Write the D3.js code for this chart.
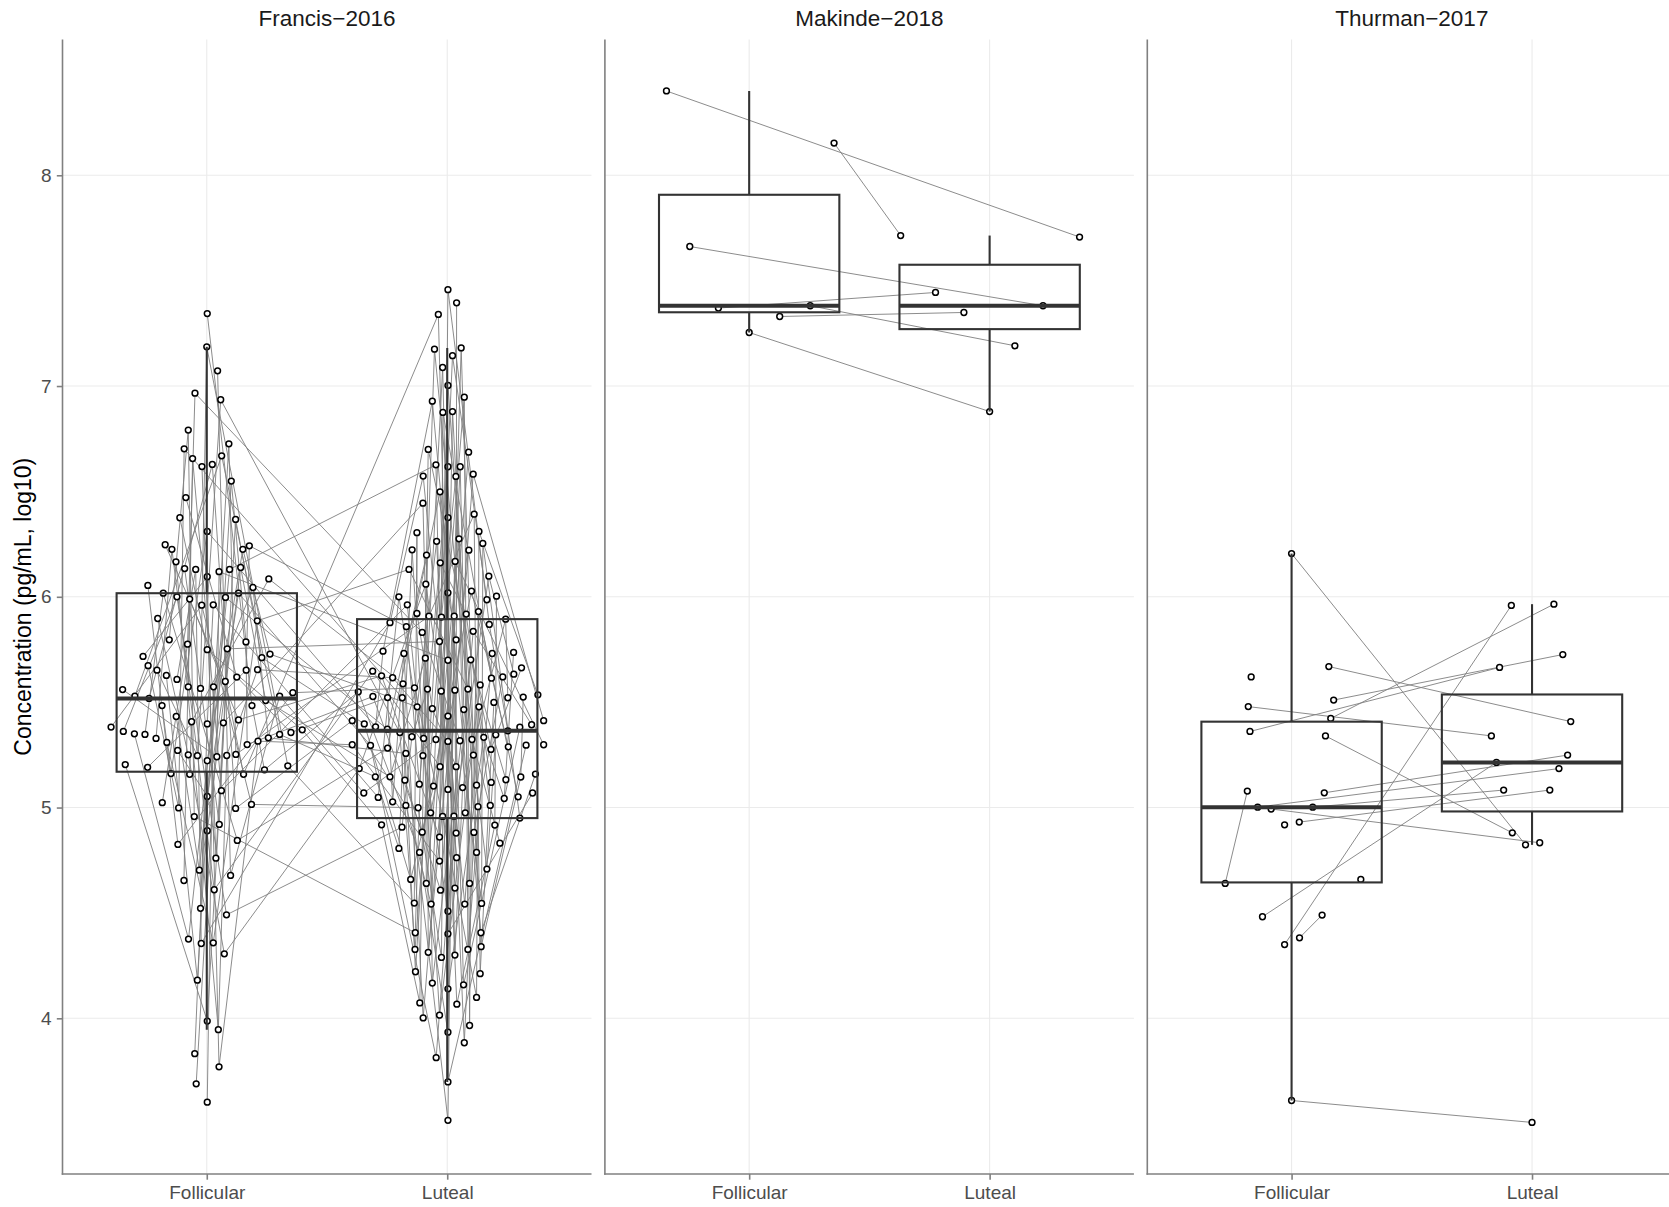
<!DOCTYPE html>
<html>
<head>
<meta charset="utf-8">
<script src="https://cdn.jsdelivr.net/npm/d3@7"></script>
<style>
  body { margin: 0; background: #ffffff; }
  svg { display: block; font-family: "Liberation Sans", Arial, Helvetica, sans-serif; }
</style>
</head>
<body>
<svg id="chart" width="1669" height="1207"></svg>
<script>
// ---- categories and labels ----
const phases = ["Follicular", "Luteal"];
const studies = ["Francis\u22122016", "Makinde\u22122018", "Thurman\u22122017"];
const yTicks = [4, 5, 6, 7, 8];
const yTitle = "Concentration (pg/mL, log10)";

// ---- Francis-2016: follicular samples (log10 pg/mL), horizontal spread, subject id ----
const francisFolValue = [
  7.344, 7.186, 7.072, 6.966, 6.935, 6.791, 6.702, 6.726, 6.656, 6.669,
  6.618, 6.628, 6.549, 6.471, 6.375, 6.367, 6.310, 6.247, 6.225, 6.225,
  6.242, 6.166, 6.134, 6.130, 6.095, 6.119, 6.130, 6.139, 6.085, 6.054,
  6.044, 6.017, 6.000, 5.989, 5.960, 5.962, 5.997, 6.017, 5.897, 5.886,
  5.796, 5.775, 5.749, 5.753, 5.786, 5.717, 5.711, 5.728, 5.673, 5.652,
  5.627, 5.608, 5.573, 5.565, 5.573, 5.598, 5.619, 5.652, 5.654, 5.560,
  5.529, 5.518, 5.484, 5.484, 5.508, 5.529, 5.545, 5.432, 5.407, 5.397,
  5.402, 5.416, 5.382, 5.361, 5.350, 5.347, 5.328, 5.309, 5.271, 5.250,
  5.246, 5.222, 5.241, 5.247, 5.252, 5.299, 5.315, 5.331, 5.347, 5.356,
  5.369, 5.204, 5.191, 5.161, 5.158, 5.158, 5.179, 5.198, 5.080, 5.053,
  5.023, 4.998, 4.957, 4.996, 5.015, 4.920, 4.890, 4.844, 4.825, 4.760,
  4.703, 4.678, 4.654, 4.610, 4.522, 4.491, 4.376, 4.355, 4.358, 4.306,
  4.181, 3.987, 3.946, 3.832, 3.770, 3.689, 3.602
];
const francisFolOffset = [
  0.002, 0.000, 0.045, -0.049, 0.058, -0.077, -0.094, 0.092, -0.059, 0.062,
  -0.020, 0.023, 0.102, -0.087, -0.112, 0.120, 0.002, -0.173, -0.145, 0.150,
  0.177, -0.128, -0.092, -0.046, 0.002, 0.051, 0.095, 0.141, 0.258, -0.245,
  0.192, -0.181, -0.124, -0.071, -0.021, 0.027, 0.078, 0.132, -0.204, 0.210,
  -0.156, -0.080, 0.002, 0.085, 0.163, -0.265, 0.229, 0.263, -0.244, -0.207,
  -0.168, -0.124, -0.077, -0.026, 0.028, 0.077, 0.125, 0.164, 0.211, -0.350,
  -0.299, -0.240, -0.186, 0.188, 0.245, 0.303, 0.358, -0.127, -0.063, 0.002,
  0.069, 0.132, -0.398, -0.347, -0.301, -0.257, -0.211, -0.166, -0.121, -0.077,
  -0.039, 0.002, 0.042, 0.083, 0.121, 0.168, 0.213, 0.256, 0.303, 0.350,
  0.397, -0.339, -0.246, -0.149, -0.071, 0.153, 0.240, 0.337, 0.061, 0.002,
  -0.185, -0.117, -0.052, 0.120, 0.186, 0.052, 0.002, 0.127, -0.120, 0.038,
  -0.031, 0.099, -0.095, 0.031, -0.026, 0.082, -0.076, -0.023, 0.027, 0.073,
  -0.039, 0.002, 0.048, -0.050, 0.051, -0.044, 0.002
];
const francisFolSubject = [
  7, 22, 15, 3, 31, 12, 26, 9, 38, 18,
  4, 35, 20, 11, 29, 1, 24, 33, 6, 14,
  40, 27, 8, 17, 36, 2, 21, 30, 13, 39,
  5, 25, 10, 34, 19, 28, 37, 16, 23, 32,
  12, 3, 29, 8, 20, 36, 1, 14, 26, 31,
  9, 17, 38, 22, 5, 33, 11, 40, 27, 2,
  18, 35, 24, 7, 30, 15, 39, 21, 13, 28,
  4, 34, 19, 10, 37, 25, 6, 32, 16, 23,
  31, 14, 2, 27, 9, 20, 36, 5, 18, 11,
  29, 1, 40, 24, 13, 33, 7, 22, 38, 16,
  3, 26, 12, 35, 19, 8, 30, 25, 39, 4,
  21, 15, 34, 6, 28, 10, 37, 17, 32, 23,
  9, 1, 27, 14, 36, 20, 5
];

// ---- Francis-2016: luteal samples ----
const francisLutValue = [
  7.457, 7.395, 7.340, 7.175, 7.181, 7.144, 7.088, 7.003, 6.928, 6.947,
  6.875, 6.879, 6.699, 6.686, 6.626, 6.617, 6.617, 6.573, 6.571, 6.582,
  6.498, 6.444, 6.376, 6.392, 6.304, 6.310, 6.263, 6.275, 6.253, 6.223,
  6.198, 6.221, 6.161, 6.168, 6.130, 6.098, 6.060, 6.019, 6.027, 6.000,
  5.986, 6.003, 5.962, 5.921, 5.908, 5.904, 5.908, 5.918, 5.930, 5.894,
  5.877, 5.858, 5.831, 5.836, 5.869, 5.788, 5.796, 5.742, 5.731, 5.709,
  5.699, 5.701, 5.731, 5.736, 5.647, 5.625, 5.616, 5.587, 5.568, 5.562,
  5.552, 5.557, 5.562, 5.582, 5.614, 5.620, 5.633, 5.663, 5.549,
  5.527, 5.522, 5.521, 5.521, 5.524, 5.535, 5.478, 5.469, 5.434, 5.465,
  5.478, 5.499, 5.412, 5.397, 5.383, 5.372, 5.412, 5.393, 5.381, 5.364,
  5.356, 5.336, 5.328, 5.323, 5.314, 5.317, 5.323, 5.333, 5.345, 5.298,
  5.295, 5.282, 5.257, 5.246, 5.249, 5.276, 5.288, 5.296, 5.298, 5.185,
  5.146, 5.146, 5.130, 5.194, 5.194, 5.111, 5.102, 5.086, 5.095, 5.106,
  5.119, 5.132, 5.145, 5.159, 5.069, 5.048, 5.027, 5.010, 4.999, 4.975,
  4.958, 4.959, 4.975, 5.004, 5.010, 5.043, 5.051, 5.069, 4.950, 4.918,
  4.907, 4.883, 4.860, 4.879, 4.882, 4.917, 4.831, 4.806, 4.787, 4.746,
  4.762, 4.787, 4.708, 4.659, 4.640, 4.608, 4.618, 4.640, 4.547, 4.542,
  4.542, 4.545, 4.508, 4.406, 4.401, 4.406, 4.327, 4.313, 4.289, 4.300,
  4.327, 4.340, 4.221, 4.212, 4.167, 4.140, 4.159, 4.073, 4.067, 4.099,
  4.002, 4.015, 3.966, 3.934, 3.884, 3.813, 3.698, 3.516
];
const francisLutOffset = [
  0.003, 0.039, -0.037, -0.053, 0.058, 0.022, -0.019, 0.003, -0.062, 0.071,
  -0.018, 0.022, -0.079, 0.089, -0.047, 0.003, 0.054, -0.100, 0.036, 0.108,
  -0.030, -0.101, 0.003, 0.112, -0.126, 0.132, -0.044, 0.049, 0.148, -0.146,
  -0.086, 0.090, -0.029, 0.033, -0.159, 0.173, -0.089, 0.003, 0.101, -0.201,
  0.165, 0.205, -0.166, -0.126, -0.076, -0.024, 0.029, 0.079, 0.130, 0.243,
  -0.238, -0.170, -0.104, 0.108, 0.175, -0.032, 0.037, -0.267, -0.180, -0.091,
  0.003, 0.098, 0.187, 0.276, -0.310, -0.273, -0.227, -0.184, -0.136, -0.082,
  -0.025, 0.032, 0.086, 0.137, 0.184, 0.231, 0.277, 0.309, -0.370,
  -0.309, -0.248, -0.187, 0.252, 0.316, 0.377, -0.125, -0.062, 0.003, 0.069,
  0.132, 0.194, -0.395, -0.345, -0.298, -0.249, 0.401, 0.351, 0.302, 0.252,
  -0.197, -0.147, -0.098, -0.047, 0.003, 0.053, 0.103, 0.152, 0.202, -0.395,
  -0.319, -0.248, -0.172, -0.101, 0.109, 0.182, 0.254, 0.328, 0.401, -0.366,
  -0.299, -0.238, -0.176, -0.030, 0.037, -0.116, -0.057, 0.003, 0.064, 0.122,
  0.183, 0.244, 0.306, 0.367, -0.347, -0.287, -0.227, -0.172, -0.121, -0.069,
  -0.019, 0.028, 0.075, 0.128, 0.179, 0.237, 0.295, 0.355, 0.302, -0.273,
  -0.188, -0.104, -0.032, 0.037, 0.111, 0.198, 0.219, -0.201, -0.115, -0.032,
  0.039, 0.122, 0.165, -0.152, -0.087, -0.028, 0.032, 0.093, -0.137, -0.067,
  0.073, 0.143, 0.003, -0.133, 0.003, 0.140, -0.134, -0.079, -0.024, 0.032,
  0.086, 0.141, -0.132, 0.137, -0.062, 0.003, 0.068, -0.114, 0.040, 0.122,
  -0.100, -0.032, 0.093, 0.003, 0.071, -0.046, 0.003, 0.003
];
const francisLutSubject = [
  19, 5, 33, 12, 27, 1, 40, 8, 24, 15,
  36, 2, 29, 11, 21, 38, 6, 17, 31, 13,
  25, 4, 34, 9, 22, 39, 14, 30, 3, 18,
  37, 10, 26, 7, 32, 16, 23, 35, 20, 28,
  1, 14, 38, 22, 9, 31, 5, 26, 12, 33,
  17, 40, 3, 28, 19, 8, 35, 24, 11, 30,
  2, 37, 15, 21, 6, 34, 27, 13, 39, 10,
  23, 4, 32, 18, 36, 25, 16, 29, 7, 20,
  11, 26, 33, 2, 39, 14, 22, 6, 30, 17,
  8, 35, 1, 24, 37, 13, 28, 4, 19, 31,
  10, 40, 15, 27, 3, 32, 21, 9, 36, 16,
  25, 5, 38, 12, 29, 20, 34, 7, 23, 18,
  30, 13, 6, 22, 40, 1, 27, 33, 9, 17,
  37, 2, 24, 15, 28, 11, 35, 19, 4, 39,
  16, 31, 8, 26, 21, 12, 38, 3, 29, 10,
  20, 34, 5, 25, 14, 32, 18, 7, 36, 23,
  27, 9, 1, 30, 13, 40, 6, 22, 35, 17,
  3, 28, 12, 38, 24, 31, 10, 19, 33, 15,
  2, 26, 8, 37, 21, 4, 29, 14, 39, 11,
  18, 32, 7, 25, 16, 34, 5
];

// ---- Makinde-2018 ----
const makindeFolValue   = [8.400, 8.153, 7.662, 7.370, 7.381, 7.330, 7.254];
const makindeFolOffset  = [-0.344, 0.353, -0.247, -0.128, 0.254, 0.127, 0.000];
const makindeFolSubject = [1, 2, 3, 4, 5, 6, 7];
const makindeLutValue   = [7.707, 7.714, 7.381, 7.444, 7.191, 7.349, 6.879];
const makindeLutOffset  = [0.374, -0.370, 0.222, -0.225, 0.105, -0.107, 0.000];
const makindeLutSubject = [1, 2, 3, 4, 5, 6, 7];

// ---- Thurman-2017 ----
const thurmanFolValue = [
  6.205, 5.620, 5.669, 5.479, 5.510, 5.361, 5.423, 5.340, 5.078, 5.070, 5.002,
  4.993, 5.002, 4.918, 4.931, 4.640, 4.659, 4.482, 4.490, 4.350, 4.382, 3.610
];
const thurmanFolOffset = [
  0.000, -0.168, 0.155, -0.180, 0.175, -0.173, 0.163, 0.141, -0.184, 0.136, -0.141,
  -0.085, 0.088, -0.029, 0.032, -0.276, 0.288, -0.121, 0.127, -0.029, 0.033, 0.000
];
const thurmanFolSubject = [1, 16, 2, 6, 3, 4, 5, 7, 17, 8, 9, 10, 13, 19, 11, 17, 20, 12, 18, 14, 18, 15];
const thurmanLutValue = [
  5.959, 5.965, 5.726, 5.665, 5.408, 5.340, 5.214, 5.249, 5.185, 5.083, 5.083,
  4.880, 4.823, 4.833, 3.506
];
const thurmanLutOffset = [
  -0.086, 0.091, 0.128, -0.135, 0.161, -0.169, -0.148, 0.148, 0.112, -0.118, 0.074,
  -0.082, -0.027, 0.032, 0.000
];
const thurmanLutSubject = [14, 5, 3, 4, 2, 6, 12, 8, 9, 13, 11, 7, 1, 10, 15];

// ---- assemble long-format records ----
function records(study, phase, values, offsets, subjects) {
  return values.map((v, i) => ({ study, phase, value: v, offset: offsets[i], subject: subjects[i] }));
}
const data = [].concat(
  records(studies[0], "Follicular", francisFolValue, francisFolOffset, francisFolSubject),
  records(studies[0], "Luteal", francisLutValue, francisLutOffset, francisLutSubject),
  records(studies[1], "Follicular", makindeFolValue, makindeFolOffset, makindeFolSubject),
  records(studies[1], "Luteal", makindeLutValue, makindeLutOffset, makindeLutSubject),
  records(studies[2], "Follicular", thurmanFolValue, thurmanFolOffset, thurmanFolSubject),
  records(studies[2], "Luteal", thurmanLutValue, thurmanLutOffset, thurmanLutSubject)
);

// ---- layout ----
const svg = d3.select("#chart");
const panelTop = 39.4, panelBottom = 1174;
const panelW = 529, panelStride = 542.4, firstPanelX = 62.5;
const axisCol = "#808080", gridCol = "#EBEBEB", boxCol = "#333333";

// shared y scale with 5% expansion around the data range
const [vMin, vMax] = d3.extent(data, d => d.value);
const pad = (vMax - vMin) * 0.05;
const y = d3.scaleLinear().domain([vMin - pad, vMax + pad]).range([panelBottom, panelTop]);

function boxStats(vals) {
  const s = vals.slice().sort(d3.ascending);
  const q1 = d3.quantile(s, 0.25), med = d3.quantile(s, 0.5), q3 = d3.quantile(s, 0.75);
  const iqr = q3 - q1;
  const lo = d3.min(s.filter(v => v >= q1 - 1.5 * iqr));
  const hi = d3.max(s.filter(v => v <= q3 + 1.5 * iqr));
  return { q1, med, q3, lo, hi };
}

studies.forEach((study, si) => {
  const left = firstPanelX + si * panelStride;
  const x = d3.scalePoint().domain(phases).range([left, left + panelW]).padding(0.6);
  const step = x.step();
  const g = svg.append("g");
  const pts = data.filter(d => d.study === study);
  const px = d => x(d.phase) + d.offset * step;

  // major grid
  g.selectAll("line.hgrid").data(yTicks).join("line")
    .attr("x1", left).attr("x2", left + panelW)
    .attr("y1", d => y(d)).attr("y2", d => y(d))
    .attr("stroke", gridCol).attr("stroke-width", 1.1);
  g.selectAll("line.vgrid").data(phases).join("line")
    .attr("x1", d => x(d)).attr("x2", d => x(d))
    .attr("y1", panelTop).attr("y2", panelBottom)
    .attr("stroke", gridCol).attr("stroke-width", 1.1);

  // subject paths, ordered along x
  const bySubject = d3.group(pts, d => d.subject);
  const line = d3.line().x(d => px(d)).y(d => y(d.value));
  g.append("g").selectAll("path").data(Array.from(bySubject.values()).filter(a => a.length > 1)).join("path")
    .attr("d", a => line(a.slice().sort((p, q) => px(p) - px(q))))
    .attr("fill", "none").attr("stroke", "#7F7F7F").attr("stroke-width", 0.9);

  // points (hollow markers with white centre)
  g.append("g").selectAll("circle").data(pts).join("circle")
    .attr("cx", px).attr("cy", d => y(d.value)).attr("r", 2.9)
    .attr("fill", "#ffffff").attr("stroke", "#000").attr("stroke-width", 1.5);

  // boxplots (outline only, drawn over the markers)
  const bw = 0.75 * step;
  phases.forEach(ph => {
    const st = boxStats(pts.filter(d => d.phase === ph).map(d => d.value));
    const cx = x(ph);
    const bg = g.append("g").attr("stroke", boxCol).attr("fill", "none");
    bg.append("line").attr("x1", cx).attr("x2", cx).attr("y1", y(st.q3)).attr("y2", y(st.hi)).attr("stroke-width", 2.1);
    bg.append("line").attr("x1", cx).attr("x2", cx).attr("y1", y(st.q1)).attr("y2", y(st.lo)).attr("stroke-width", 2.1);
    bg.append("rect").attr("x", cx - bw / 2).attr("width", bw)
      .attr("y", y(st.q3)).attr("height", y(st.q1) - y(st.q3)).attr("stroke-width", 2.1);
    bg.append("line").attr("x1", cx - bw / 2).attr("x2", cx + bw / 2)
      .attr("y1", y(st.med)).attr("y2", y(st.med)).attr("stroke-width", 4);
  });

  // axis lines
  g.append("line").attr("x1", left).attr("x2", left).attr("y1", panelTop).attr("y2", panelBottom + 0.8)
    .attr("stroke", axisCol).attr("stroke-width", 1.6);
  g.append("line").attr("x1", left - 0.8).attr("x2", left + panelW).attr("y1", panelBottom).attr("y2", panelBottom)
    .attr("stroke", axisCol).attr("stroke-width", 1.6);

  // bottom axis
  const xa = g.append("g").attr("transform", `translate(0,${panelBottom})`)
    .call(d3.axisBottom(x).tickSize(5.7).tickPadding(5.5));
  xa.select(".domain").remove();
  xa.selectAll(".tick line").attr("stroke", axisCol).attr("stroke-width", 1.6);
  xa.selectAll(".tick text").attr("fill", "#4D4D4D").style("font-size", "19px")
    .style("font-family", '"Liberation Sans", Arial, sans-serif');

  // left axis on the first panel only
  if (si === 0) {
    const ya = g.append("g").attr("transform", `translate(${left},0)`)
      .call(d3.axisLeft(y).tickValues(yTicks).tickFormat(d3.format("d")).tickSize(5.7).tickPadding(5.2));
    ya.select(".domain").remove();
    ya.selectAll(".tick line").attr("stroke", axisCol).attr("stroke-width", 1.6);
    ya.selectAll(".tick text").attr("fill", "#4D4D4D").style("font-size", "19px")
      .style("font-family", '"Liberation Sans", Arial, sans-serif');
  }

  // strip title
  g.append("text").attr("x", left + panelW / 2).attr("y", 26)
    .attr("text-anchor", "middle").attr("fill", "#1A1A1A")
    .style("font-size", "22.5px").text(study);
});

// y axis title
svg.append("text")
  .attr("transform", `translate(31,${(panelTop + panelBottom) / 2}) rotate(-90)`)
  .attr("text-anchor", "middle").attr("fill", "#000")
  .style("font-size", "23px").text(yTitle);
</script>
</body>
</html>
